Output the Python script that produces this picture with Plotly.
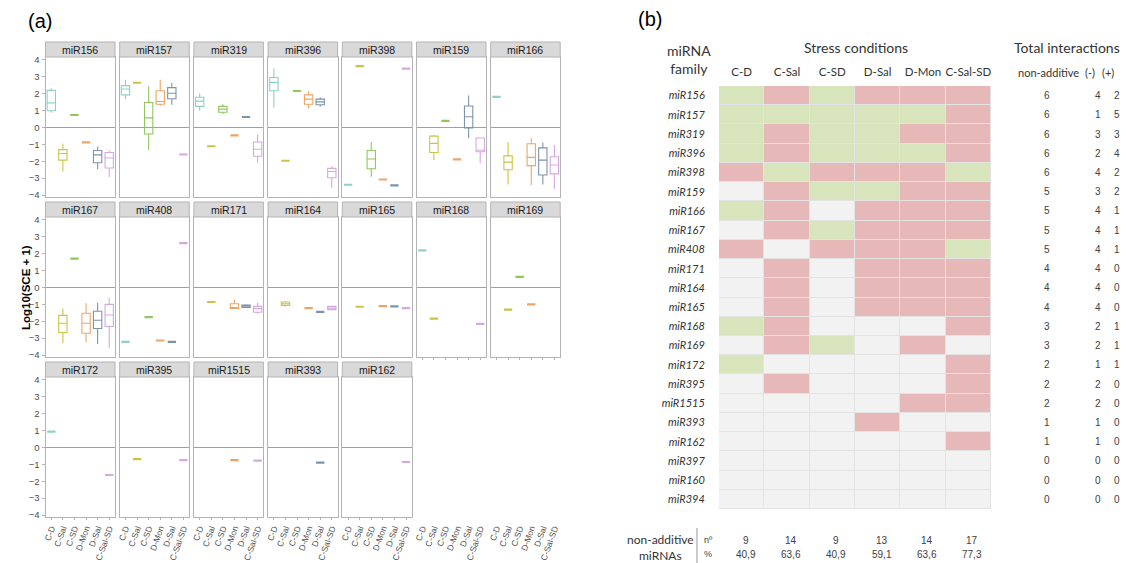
import plotly.graph_objects as go

# ---------------- data: panel (a) ----------------
conditions = ["C-D", "C-Sal", "C-SD", "D-Mon", "D-Sal", "C-Sal-SD"]
cond_colors = ["#8ecfc9", "#c9c447", "#8fc65e", "#f0a464", "#7d93aa", "#d6a8e0"]

# condition -> (lower whisker, q1, median, q3, upper whisker)
miR156 = {"C-D": (0.88, 0.99, 1.46, 2.20, 2.32), "C-Sal": (-2.59, -1.93, -1.54, -1.31, -0.96),
          "C-SD": (0.74, 0.74, 0.74, 0.74, 0.74), "D-Mon": (-0.88, -0.88, -0.88, -0.88, -0.88),
          "D-Sal": (-2.48, -2.09, -1.62, -1.36, -1.13), "C-Sal-SD": (-2.94, -2.40, -1.81, -1.48, -1.36)}
miR157 = {"C-D": (1.68, 1.93, 2.28, 2.48, 2.83), "C-Sal": (2.65, 2.65, 2.65, 2.65, 2.65),
          "C-SD": (-1.33, -0.39, 0.57, 1.48, 2.44), "D-Mon": (1.27, 1.38, 1.54, 2.18, 2.83),
          "D-Sal": (1.35, 1.70, 2.03, 2.36, 2.65), "C-Sal-SD": (-1.60, -1.60, -1.60, -1.60, -1.60)}
miR319 = {"C-D": (0.99, 1.25, 1.56, 1.79, 2.03), "C-Sal": (-1.11, -1.11, -1.11, -1.11, -1.11),
          "C-SD": (0.80, 0.90, 1.09, 1.25, 1.38), "D-Mon": (-0.47, -0.47, -0.47, -0.47, -0.47),
          "D-Sal": (0.62, 0.62, 0.62, 0.62, 0.62), "C-Sal-SD": (-2.09, -1.70, -1.29, -0.86, -0.41)}
miR396 = {"C-D": (1.19, 2.18, 2.67, 2.96, 3.49), "C-Sal": (-1.97, -1.97, -1.97, -1.97, -1.97),
          "C-SD": (2.16, 2.16, 2.16, 2.16, 2.16), "D-Mon": (1.13, 1.38, 1.68, 1.93, 2.18),
          "D-Sal": (1.23, 1.35, 1.52, 1.68, 1.79), "C-Sal-SD": (-3.57, -2.98, -2.61, -2.42, -2.30)}
miR398 = {"C-D": (-3.39, -3.39, -3.39, -3.39, -3.39), "C-Sal": (3.63, 3.63, 3.63, 3.63, 3.63),
          "C-SD": (-2.92, -2.44, -1.87, -1.36, -0.86), "D-Mon": (-3.08, -3.08, -3.08, -3.08, -3.08),
          "D-Sal": (-3.43, -3.43, -3.43, -3.43, -3.43), "C-Sal-SD": (3.49, 3.49, 3.49, 3.49, 3.49)}
miR159 = {"C-Sal": (-1.93, -1.48, -0.94, -0.51, -0.45), "C-SD": (0.39, 0.39, 0.39, 0.39, 0.39),
          "D-Mon": (-1.89, -1.89, -1.89, -1.89, -1.89), "D-Sal": (-0.64, -0.02, 0.64, 1.27, 1.89),
          "C-Sal-SD": (-2.12, -1.44, -1.35, -0.62, -0.62)}
miR166 = {"C-D": (1.81, 1.81, 1.81, 1.81, 1.81), "C-Sal": (-3.37, -2.50, -2.05, -1.68, -0.86),
          "D-Mon": (-3.41, -2.26, -1.77, -0.96, -0.64), "D-Sal": (-3.37, -2.81, -1.93, -1.21, -0.90),
          "C-Sal-SD": (-3.63, -2.75, -2.22, -1.73, -1.03)}
miR167 = {"C-Sal": (-3.31, -2.67, -2.12, -1.65, -1.25), "C-SD": (1.71, 1.71, 1.71, 1.71, 1.71),
          "D-Mon": (-3.25, -2.71, -2.12, -1.53, -0.94), "D-Sal": (-3.35, -2.43, -1.94, -1.41, -0.90),
          "C-Sal-SD": (-3.59, -2.31, -1.63, -1.00, -0.61)}
miR408 = {"C-D": (-3.22, -3.22, -3.22, -3.22, -3.22), "C-SD": (-1.75, -1.75, -1.75, -1.75, -1.75),
          "D-Mon": (-3.14, -3.14, -3.14, -3.14, -3.14), "D-Sal": (-3.22, -3.22, -3.22, -3.22, -3.22),
          "C-Sal-SD": (2.63, 2.63, 2.63, 2.63, 2.63)}
miR171 = {"C-Sal": (-0.86, -0.86, -0.86, -0.86, -0.86), "D-Mon": (-1.24, -1.24, -1.20, -0.96, -0.71),
          "D-Sal": (-1.20, -1.18, -1.10, -1.04, -1.00), "C-Sal-SD": (-1.55, -1.47, -1.25, -1.12, -0.90)}
miR164 = {"C-Sal": (-1.12, -1.06, -0.96, -0.86, -0.80), "D-Mon": (-1.22, -1.22, -1.22, -1.22, -1.22),
          "D-Sal": (-1.45, -1.45, -1.45, -1.45, -1.45), "C-Sal-SD": (-1.35, -1.31, -1.22, -1.12, -1.08)}
miR165 = {"C-Sal": (-1.14, -1.14, -1.14, -1.14, -1.14), "D-Mon": (-1.10, -1.10, -1.10, -1.10, -1.10),
          "D-Sal": (-1.12, -1.12, -1.12, -1.12, -1.12), "C-Sal-SD": (-1.22, -1.22, -1.22, -1.22, -1.22)}
miR168 = {"C-D": (2.20, 2.20, 2.20, 2.20, 2.20), "C-Sal": (-1.84, -1.84, -1.84, -1.84, -1.84),
          "C-Sal-SD": (-2.16, -2.16, -2.16, -2.16, -2.16)}
miR169 = {"C-Sal": (-1.31, -1.31, -1.31, -1.31, -1.31), "C-SD": (0.63, 0.63, 0.63, 0.63, 0.63),
          "D-Mon": (-1.00, -1.00, -1.00, -1.00, -1.00)}
miR172 = {"C-D": (0.94, 0.94, 0.94, 0.94, 0.94), "C-Sal-SD": (-1.63, -1.63, -1.63, -1.63, -1.63)}
miR395 = {"C-Sal": (-0.69, -0.69, -0.69, -0.69, -0.69), "C-Sal-SD": (-0.75, -0.75, -0.75, -0.75, -0.75)}
miR1515 = {"D-Mon": (-0.75, -0.75, -0.75, -0.75, -0.75), "C-Sal-SD": (-0.78, -0.78, -0.78, -0.78, -0.78)}
miR393 = {"D-Sal": (-0.90, -0.90, -0.90, -0.90, -0.90)}
miR162 = {"C-Sal-SD": (-0.86, -0.86, -0.86, -0.86, -0.86)}

facet_names = ["miR156", "miR157", "miR319", "miR396", "miR398", "miR159", "miR166",
               "miR167", "miR408", "miR171", "miR164", "miR165", "miR168", "miR169",
               "miR172", "miR395", "miR1515", "miR393", "miR162"]
facet_data = [miR156, miR157, miR319, miR396, miR398, miR159, miR166,
              miR167, miR408, miR171, miR164, miR165, miR168, miR169,
              miR172, miR395, miR1515, miR393, miR162]
y_ticks = [-4, -3, -2, -1, 0, 1, 2, 3, 4]

# ---------------- data: panel (b) ----------------
heat_cols = ["C-D", "C-Sal", "C-SD", "D-Sal", "D-Mon", "C-Sal-SD"]
families = ["miR156", "miR157", "miR319", "miR396", "miR398", "miR159", "miR166", "miR167",
            "miR408", "miR171", "miR164", "miR165", "miR168", "miR169", "miR172", "miR395",
            "miR1515", "miR393", "miR162", "miR397", "miR160", "miR394"]
# 1 = positive (+) interaction, -1 = negative (-), 0 = additive
heat_z = [
    [1, -1, 1, -1, -1, -1],
    [1, 1, 1, 1, 1, -1],
    [1, -1, 1, 1, -1, -1],
    [1, -1, 1, 1, 1, -1],
    [-1, 1, -1, -1, -1, 1],
    [0, -1, 1, 1, -1, -1],
    [1, -1, 0, -1, -1, -1],
    [0, -1, 1, -1, -1, -1],
    [-1, 0, -1, -1, -1, 1],
    [0, -1, 0, -1, -1, -1],
    [0, -1, 0, -1, -1, -1],
    [0, -1, 0, -1, -1, -1],
    [1, -1, 0, 0, 0, -1],
    [0, -1, 1, 0, -1, 0],
    [1, 0, 0, 0, 0, -1],
    [0, -1, 0, 0, 0, -1],
    [0, 0, 0, 0, -1, -1],
    [0, 0, 0, -1, 0, 0],
    [0, 0, 0, 0, 0, -1],
    [0, 0, 0, 0, 0, 0],
    [0, 0, 0, 0, 0, 0],
    [0, 0, 0, 0, 0, 0],
]
total_nonadd = [6, 6, 6, 6, 6, 5, 5, 5, 5, 4, 4, 4, 3, 3, 2, 2, 2, 1, 1, 0, 0, 0]
total_neg = [4, 1, 3, 2, 4, 3, 4, 4, 4, 4, 4, 4, 2, 2, 1, 2, 2, 1, 1, 0, 0, 0]
total_pos = [2, 5, 3, 4, 2, 2, 1, 1, 1, 0, 0, 0, 1, 1, 1, 0, 0, 0, 0, 0, 0, 0]
col_n = ["9", "14", "9", "13", "14", "17"]
col_pct = ["40,9", "63,6", "40,9", "59,1", "63,6", "77,3"]

# ---------------- layout helpers ----------------
W, H = 1130, 563
def fx(p): return p / W
def fy(p): return 1 - p / H
def suffix(n): return "" if n == 1 else str(n)

col_left = [45.5 + 74.2 * c for c in range(7)]
panel_w = 69.5
row_top = [57, 217, 377]
panel_h = 140
strip_h = 15
y_range = [-4.117, 4.175]
border = "#b3b3b3"
tick_grey = "#4d4d4d"
lab_font = "Liberation Sans, Arial, sans-serif"
cal_font = "Lato, Open Sans, sans-serif"
xtick_font = dict(family=lab_font, size=8.5, color=tick_grey)

fig = go.Figure()
layout = {}
shapes = []
annotations = []

for i, (name, data) in enumerate(zip(facet_names, facet_data)):
    r, c = divmod(i, 7)
    n = i + 1
    for cond, color in zip(conditions, cond_colors):
        if cond in data:
            lo, q1, med, q3, hi = data[cond]
            single = (q1 == q3)
            fig.add_trace(go.Box(
                x=[cond], q1=[q1], median=[med], q3=[q3], lowerfence=[lo], upperfence=[hi],
                xaxis="x" + suffix(n), yaxis="y" + suffix(n),
                line=dict(color=color, width=2.2 if single else 1.1),
                fillcolor="rgba(255,255,255,0)",
                width=0.72, whiskerwidth=0, boxpoints=False, showlegend=False, hoverinfo="skip"))
    left, top = col_left[c], row_top[r]
    is_bottom_row = (r == 2) or (r == 1 and c >= 5)
    layout["xaxis" + suffix(n)] = dict(
        domain=[fx(left), fx(left + panel_w)], anchor="y" + suffix(n), automargin=False,
        type="category", categoryorder="array", categoryarray=conditions, range=[-0.5, 5.5],
        tickmode="array", tickvals=conditions, ticktext=conditions,
        showline=True, mirror=True, linecolor=border, linewidth=1, showgrid=False, zeroline=False,
        ticks="outside" if is_bottom_row else "", ticklen=2, tickcolor=border,
        showticklabels=(r == 2), tickangle=-70, tickfont=xtick_font, fixedrange=True)
    layout["yaxis" + suffix(n)] = dict(
        domain=[fy(top + panel_h), fy(top)], anchor="x" + suffix(n), range=y_range,
        automargin=False,
        tickvals=y_ticks, showline=True, mirror=True, linecolor=border, linewidth=1,
        showgrid=False, zeroline=True, zerolinecolor="#a0a0a0", zerolinewidth=1,
        ticks="outside" if c == 0 else "", ticklen=3, tickcolor=border,
        showticklabels=(c == 0), tickfont=dict(family=lab_font, size=9.5, color=tick_grey),
        fixedrange=True)
    shapes.append(dict(type="rect", xref="paper", yref="paper",
                       x0=fx(left), x1=fx(left + panel_w), y0=fy(top), y1=fy(top - strip_h),
                       fillcolor="#d9d9d9", line=dict(color=border, width=1)))
    annotations.append(dict(text=name, xref="paper", yref="paper",
                            x=fx(left + panel_w / 2), y=fy(top - strip_h / 2),
                            showarrow=False, xanchor="center", yanchor="middle",
                            font=dict(family=lab_font, size=10.5, color="#1a1a1a")))

# tick labels under the empty positions of columns 6 and 7
for k, c in enumerate([5, 6]):
    n = 20 + k
    left, top = col_left[c], row_top[2]
    fig.add_trace(go.Scatter(x=conditions, y=[None] * 6, mode="markers",
                             xaxis="x" + suffix(n), yaxis="y" + suffix(n),
                             showlegend=False, hoverinfo="skip"))
    layout["xaxis" + suffix(n)] = dict(
        domain=[fx(left), fx(left + panel_w)], anchor="y" + suffix(n), automargin=False,
        type="category", categoryorder="array", categoryarray=conditions, range=[-0.5, 5.5],
        tickmode="array", tickvals=conditions, ticktext=conditions,
        showline=False, showgrid=False, zeroline=False, ticks="outside", ticklen=2,
        tickcolor="rgba(0,0,0,0)", tickangle=-70, tickfont=xtick_font, fixedrange=True)
    layout["yaxis" + suffix(n)] = dict(
        domain=[fy(top + panel_h), fy(top)], anchor="x" + suffix(n), range=y_range,
        automargin=False, visible=False, fixedrange=True)

# y-axis title
annotations.append(dict(text="<b>Log10(SCE + 1)</b>", xref="paper", yref="paper",
                        x=fx(18), y=fy(288), textangle=-90, showarrow=False,
                        font=dict(family=lab_font, size=11.5, color="#000")))
annotations.append(dict(text="(a)", xref="paper", yref="paper", x=fx(26), y=fy(21),
                        xanchor="left", yanchor="middle", showarrow=False,
                        font=dict(family=lab_font, size=20, color="#000")))

# ---------------- heatmap panel ----------------
hn = 22
fig.add_trace(go.Heatmap(
    x=heat_cols, y=families, z=heat_z, zmin=-1, zmax=1,
    colorscale=[[0, "#e6b8b7"], [0.5, "#f2f2f2"], [1, "#d8e4bc"]],
    xgap=1, ygap=1, showscale=False, hoverinfo="skip",
    xaxis="x" + str(hn), yaxis="y" + str(hn)))
layout["xaxis" + str(hn)] = dict(
    domain=[fx(719), fx(991)], anchor="y" + str(hn), side="top", type="category",
    automargin=False,
    showline=False, showgrid=False, zeroline=False, ticks="outside", ticklen=4,
    tickcolor="rgba(0,0,0,0)", tickfont=dict(family=cal_font, size=11.5, color="#333"),
    fixedrange=True)
layout["yaxis" + str(hn)] = dict(
    domain=[fy(509), fy(86)], anchor="x" + str(hn), type="category", autorange="reversed",
    automargin=False,
    showline=False, showgrid=False, zeroline=False, ticks="outside", ticklen=11,
    tickcolor="rgba(0,0,0,0)",
    tickfont=dict(family=cal_font, size=11, color="#333", style="italic"), fixedrange=True)
shapes.append(dict(type="rect", xref="x%d domain" % hn, yref="y%d domain" % hn,
                   x0=0, x1=1, y0=0, y1=1, fillcolor="#e3e3e3", line=dict(width=0),
                   layer="below"))

annotations += [
    dict(text="(b)", xref="paper", yref="paper", x=fx(636), y=fy(19), xanchor="left",
         yanchor="middle", showarrow=False, font=dict(family=lab_font, size=20, color="#000")),
    dict(text="miRNA<br>family", xref="paper", yref="paper", x=fx(689), y=fy(60),
         xanchor="center", yanchor="middle", showarrow=False,
         font=dict(family=cal_font, size=14, color="#333")),
    dict(text="Stress conditions", xref="paper", yref="paper", x=fx(856), y=fy(48),
         xanchor="center", yanchor="middle", showarrow=False,
         font=dict(family=cal_font, size=14, color="#333")),
    dict(text="Total interactions", xref="paper", yref="paper", x=fx(1067), y=fy(48),
         xanchor="center", yanchor="middle", showarrow=False,
         font=dict(family=cal_font, size=14, color="#333")),
    dict(text="non-additive", xref="paper", yref="paper", x=fx(1048), y=fy(73),
         xanchor="center", yanchor="middle", showarrow=False,
         font=dict(family=cal_font, size=11, color="#333")),
    dict(text="(-)", xref="paper", yref="paper", x=fx(1090), y=fy(73),
         xanchor="center", yanchor="middle", showarrow=False,
         font=dict(family=cal_font, size=11, color="#333")),
    dict(text="(+)", xref="paper", yref="paper", x=fx(1108), y=fy(73),
         xanchor="center", yanchor="middle", showarrow=False,
         font=dict(family=cal_font, size=11, color="#333")),
]
num_font = dict(family=lab_font, size=10, color="#404040")
for fam, a, b, c in zip(families, total_nonadd, total_neg, total_pos):
    for xp, val in [(1047, a), (1098, b), (1117, c)]:
        annotations.append(dict(text=str(val), xref="paper", yref="y" + str(hn), x=fx(xp), y=fam,
                                xanchor="center", yanchor="middle", showarrow=False,
                                font=num_font))

# bottom summary rows
annotations += [
    dict(text="non-additive", xref="paper", yref="paper", x=fx(660), y=fy(539),
         xanchor="center", yanchor="middle", showarrow=False,
         font=dict(family=cal_font, size=12, color="#333")),
    dict(text="miRNAs", xref="paper", yref="paper", x=fx(660), y=fy(555),
         xanchor="center", yanchor="middle", showarrow=False,
         font=dict(family=cal_font, size=12, color="#333")),
    dict(text="nº", xref="paper", yref="paper", x=fx(708), y=fy(540),
         xanchor="center", yanchor="middle", showarrow=False,
         font=dict(family=lab_font, size=9, color="#404040")),
    dict(text="%", xref="paper", yref="paper", x=fx(708), y=fy(554),
         xanchor="center", yanchor="middle", showarrow=False,
         font=dict(family=lab_font, size=9, color="#404040")),
]
for col, nv, pv in zip(heat_cols, col_n, col_pct):
    annotations.append(dict(text=nv, xref="x" + str(hn), yref="paper", x=col, y=fy(540),
                            xshift=4, xanchor="center", yanchor="middle", showarrow=False,
                            font=num_font))
    annotations.append(dict(text=pv, xref="x" + str(hn), yref="paper", x=col, y=fy(554),
                            xshift=4, xanchor="center", yanchor="middle", showarrow=False,
                            font=num_font))
shapes.append(dict(type="line", xref="paper", yref="paper", x0=fx(697), x1=fx(697),
                   y0=fy(528), y1=fy(563), line=dict(color="#999", width=1)))

fig.update_layout(
    width=W, height=H, margin=dict(l=0, r=0, t=0, b=0, autoexpand=False),
    paper_bgcolor="white", plot_bgcolor="rgba(0,0,0,0)",
    boxmode="overlay", showlegend=False,
    shapes=shapes, annotations=annotations, **layout)

fig.write_html("out.html")
